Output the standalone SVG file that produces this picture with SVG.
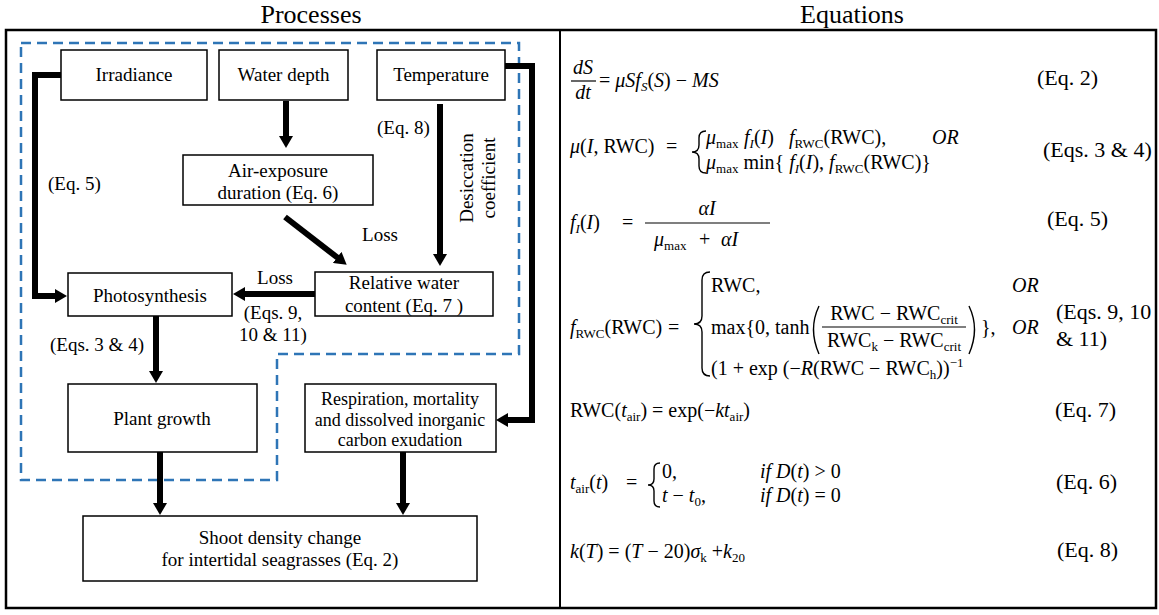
<svg xmlns="http://www.w3.org/2000/svg" width="1159" height="615" viewBox="0 0 1159 615">
<style>
.t{font-family:"Liberation Serif","Times New Roman",serif;font-size:19px;fill:#000}
.bt{font-family:"Liberation Serif","Times New Roman",serif;font-size:18px;fill:#000}
.h{font-family:"Liberation Serif","Times New Roman",serif;font-size:26px;fill:#000}
.m{font-family:"Liberation Serif","Times New Roman",serif;font-size:20px;fill:#000}
.el{font-family:"Liberation Serif","Times New Roman",serif;font-size:22px;fill:#000}
.i{font-style:italic}
.s{font-size:13px}
.box{fill:#fff;stroke:#000;stroke-width:1.5}
.conn{stroke:#000;stroke-width:6;fill:none}
.br{stroke:#000;stroke-width:1.4;fill:none}
.bar{stroke:#000;stroke-width:1.2}
</style>
<defs>
<marker id="ah" viewBox="0 0 12 14" refX="1" refY="7" markerWidth="12" markerHeight="14" markerUnits="userSpaceOnUse" orient="auto">
<path d="M0,0 L12,7 L0,14 z" fill="#000"/>
</marker>
</defs>
<rect width="1159" height="615" fill="#fff"/>
<text class="h" x="311" y="23" text-anchor="middle">Processes</text>
<text class="h" x="852" y="23" text-anchor="middle">Equations</text>
<rect x="6" y="30" width="1150" height="578" fill="none" stroke="#000" stroke-width="2.5"/>
<line x1="560" y1="30" x2="560" y2="608" stroke="#000" stroke-width="2"/>
<path d="M21,43 H519 V354 H277 V480 H21 Z" fill="none" stroke="#2e75b6" stroke-width="2.5" stroke-dasharray="10 6"/>

<g id="connectors">
<line class="conn" x1="286" y1="101" x2="286" y2="137" marker-end="url(#ah)"/>
<line class="conn" x1="285" y1="217" x2="338" y2="258" marker-end="url(#ah)"/>
<line class="conn" x1="440" y1="104" x2="440" y2="255" marker-end="url(#ah)"/>
<line class="conn" x1="315" y1="294" x2="244" y2="294" marker-end="url(#ah)"/>
<polyline class="conn" points="61,75 35,75 35,296 56,296" marker-end="url(#ah)"/>
<line class="conn" x1="156" y1="316" x2="156" y2="372" marker-end="url(#ah)"/>
<line class="conn" x1="160" y1="452" x2="160" y2="504" marker-end="url(#ah)"/>
<line class="conn" x1="403" y1="452" x2="403" y2="504" marker-end="url(#ah)"/>
<polyline class="conn" points="505,66 532,66 532,420 507,420" marker-end="url(#ah)"/>
<text class="t" x="48" y="190">(Eq. 5)</text>
<text class="t" x="377" y="134">(Eq. 8)</text>
<text class="t" transform="translate(473,178) rotate(-90)" text-anchor="middle">Desiccation</text>
<text class="t" transform="translate(495,178) rotate(-90)" text-anchor="middle">coefficient</text>
<text class="t" x="380" y="241" text-anchor="middle">Loss</text>
<text class="t" x="275" y="284" text-anchor="middle">Loss</text>
<text class="t" x="273" y="319" text-anchor="middle">(Eqs. 9,</text>
<text class="t" x="273" y="341" text-anchor="middle">10 &amp; 11)</text>
<text class="t" x="97" y="351" text-anchor="middle">(Eqs. 3 &amp; 4)</text>
</g>

<g id="irradiance"><rect class="box" x="61" y="50" width="146" height="50"/><text class="t" x="134" y="81" text-anchor="middle">Irradiance</text></g>
<g id="water-depth"><rect class="box" x="219" y="50" width="129" height="50"/><text class="t" x="283.5" y="81" text-anchor="middle">Water depth</text></g>
<g id="temperature"><rect class="box" x="377" y="50" width="128" height="50"/><text class="t" x="441" y="81" text-anchor="middle">Temperature</text></g>
<g id="air-exposure"><rect class="box" x="183" y="155" width="190" height="50"/><text class="t" x="278" y="177" text-anchor="middle">Air-exposure</text><text class="t" x="278" y="199" text-anchor="middle">duration (Eq. 6)</text></g>
<g id="rwc"><rect class="box" x="315" y="272" width="178" height="44"/><text class="t" x="404" y="289" text-anchor="middle">Relative water</text><text class="t" x="404" y="312" text-anchor="middle">content (Eq. 7 )</text></g>
<g id="photosynthesis"><rect class="box" x="68" y="273" width="164" height="43"/><text class="t" x="150" y="302" text-anchor="middle">Photosynthesis</text></g>
<g id="plant-growth"><rect class="box" x="68" y="384" width="189" height="68"/><text class="t" x="162" y="425" text-anchor="middle">Plant growth</text></g>
<g id="respiration"><rect class="box" x="305" y="384" width="191" height="68"/><text class="bt" x="400" y="405" text-anchor="middle">Respiration, mortality</text><text class="bt" x="400" y="426" text-anchor="middle">and dissolved inorganic</text><text class="bt" x="400" y="446" text-anchor="middle">carbon exudation</text></g>
<g id="shoot-density"><rect class="box" x="83" y="516" width="394" height="65"/><text class="t" x="280" y="544" text-anchor="middle">Shoot density change</text><text class="t" x="280" y="566" text-anchor="middle">for intertidal seagrasses (Eq. 2)</text></g>

<g id="eq2">
<text class="m i" x="583" y="74" text-anchor="middle">dS</text>
<line class="bar" x1="571" y1="81" x2="596" y2="81"/>
<text class="m i" x="583" y="99" text-anchor="middle">dt</text>
<text class="m" x="599" y="87">= <tspan class="i">μSf</tspan><tspan class="s i" dy="4">S</tspan><tspan dy="-4">(</tspan><tspan class="i">S</tspan>) − <tspan class="i">MS</tspan></text>
<text class="el" x="1037" y="85">(Eq. 2)</text>
</g>

<g id="eq3-4">
<text class="m" x="570" y="153"><tspan class="i">μ</tspan>(<tspan class="i">I</tspan>, RWC)<tspan x="666">=</tspan></text>
<path class="br" d="M706,131 Q699,131 699,138 L699,145 Q699,152 692,152 Q699,152 699,159 L699,166 Q699,173 706,173"/>
<text class="m" x="706" y="144"><tspan class="i">μ</tspan><tspan class="s" dy="4">max</tspan><tspan class="i" x="744" dy="-4">f</tspan><tspan class="s i" dy="4">I</tspan><tspan dy="-4">(</tspan><tspan class="i">I</tspan>)<tspan class="i" x="789">f</tspan><tspan class="s" dy="4">RWC</tspan><tspan dy="-4">(RWC),</tspan></text>
<text class="m i" x="932" y="144">OR</text>
<text class="m" x="706" y="169"><tspan class="i">μ</tspan><tspan class="s" dy="4">max</tspan><tspan dy="-4"> min{ </tspan><tspan class="i">f</tspan><tspan class="s i" dy="4">I</tspan><tspan dy="-4">(</tspan><tspan class="i">I</tspan>), <tspan class="i">f</tspan><tspan class="s" dy="4">RWC</tspan><tspan dy="-4">(RWC)}</tspan></text>
<text class="el" x="1043" y="157">(Eqs. 3 &amp; 4)</text>
</g>

<g id="eq5">
<text class="m" x="570" y="229"><tspan class="i">f</tspan><tspan class="s i" dy="4">I</tspan><tspan dy="-4">(</tspan><tspan class="i">I</tspan>)<tspan x="622">=</tspan></text>
<text class="m i" x="707" y="215" text-anchor="middle">αI</text>
<line class="bar" x1="645" y1="223" x2="770" y2="223"/>
<text class="m" x="654" y="246"><tspan class="i">μ</tspan><tspan class="s" dy="4">max</tspan><tspan x="699" dy="-4">+</tspan><tspan class="i" x="721">αI</tspan></text>
<text class="el" x="1047" y="226">(Eq. 5)</text>
</g>

<g id="eq9-11">
<text class="m" x="570" y="334"><tspan class="i">f</tspan><tspan class="s" dy="4">RWC</tspan><tspan dy="-4">(RWC)</tspan><tspan x="668">=</tspan></text>
<path class="br" d="M710,272 Q702,272 702,280 L702,316 Q702,324 694,324 Q702,324 702,332 L702,368 Q702,376 710,376"/>
<text class="m" x="711" y="292">RWC,</text>
<text class="m i" x="1012" y="292">OR</text>
<text class="m" x="711" y="334">max{0, tanh</text>
<path class="br" d="M819,306 Q808,329 819,354"/>
<text class="m" x="894" y="320" text-anchor="middle">RWC − RWC<tspan class="s" dy="4">crit</tspan></text>
<line class="bar" x1="822" y1="327" x2="966" y2="327"/>
<text class="m" x="894" y="347" text-anchor="middle">RWC<tspan class="s" dy="4">k</tspan><tspan dy="-4"> − RWC</tspan><tspan class="s" dy="4">crit</tspan></text>
<path class="br" d="M969,306 Q980,329 969,354"/>
<text class="m" x="981" y="334">},</text>
<text class="m i" x="1012" y="334">OR</text>
<text class="m" x="711" y="375">(1 + exp (−<tspan class="i">R</tspan>(RWC − RWC<tspan class="s" dy="4">h</tspan><tspan dy="-4">))</tspan><tspan class="s" dy="-8">−1</tspan></text>
<text class="el" x="1056" y="319">(Eqs. 9, 10</text>
<text class="el" x="1056" y="346">&amp; 11)</text>
</g>

<g id="eq7">
<text class="m" x="570" y="417">RWC(<tspan class="i">t</tspan><tspan class="s" dy="4">air</tspan><tspan dy="-4">) = exp(−</tspan><tspan class="i">kt</tspan><tspan class="s" dy="4">air</tspan><tspan dy="-4">)</tspan></text>
<text class="el" x="1055" y="417">(Eq. 7)</text>
</g>

<g id="eq6">
<text class="m" x="570" y="489"><tspan class="i">t</tspan><tspan class="s" dy="4">air</tspan><tspan dy="-4">(</tspan><tspan class="i">t</tspan>)<tspan x="626">=</tspan></text>
<path class="br" d="M660,463 Q654,463 654,469 L654,479 Q654,485 648,485 Q654,485 654,491 L654,501 Q654,507 660,507"/>
<text class="m" x="662" y="478">0,</text>
<text class="m" x="760" y="478"><tspan class="i">if D</tspan>(<tspan class="i">t</tspan>) &gt; 0</text>
<text class="m" x="662" y="502"><tspan class="i">t</tspan> − <tspan class="i">t</tspan><tspan class="s" dy="4">0</tspan><tspan dy="-4">,</tspan></text>
<text class="m" x="760" y="502"><tspan class="i">if D</tspan>(<tspan class="i">t</tspan>) = 0</text>
<text class="el" x="1056" y="489">(Eq. 6)</text>
</g>

<g id="eq8">
<text class="m" x="570" y="558"><tspan class="i">k</tspan>(<tspan class="i">T</tspan>) = (<tspan class="i">T</tspan> − 20)<tspan class="i">σ</tspan><tspan class="s" dy="4">k</tspan><tspan dy="-4"> +</tspan><tspan class="i">k</tspan><tspan class="s" dy="4">20</tspan></text>
<text class="el" x="1057" y="557">(Eq. 8)</text>
</g>
</svg>
